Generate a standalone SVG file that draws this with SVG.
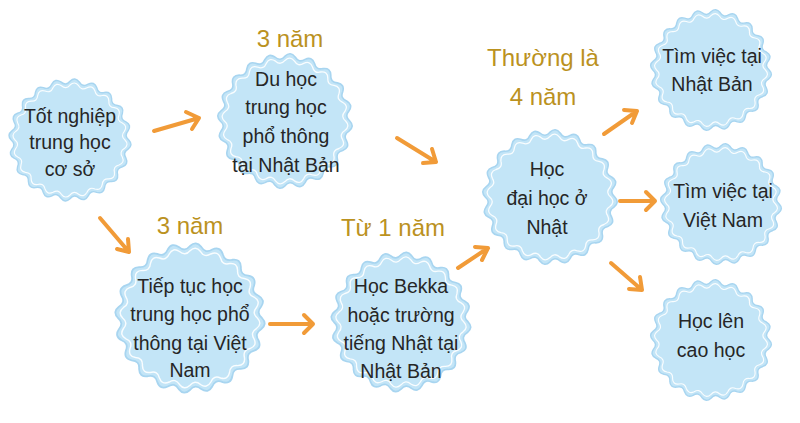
<svg xmlns="http://www.w3.org/2000/svg" xmlns:xlink="http://www.w3.org/1999/xlink" width="800" height="423" viewBox="0 0 800 423">
<style>
.t{font-family:"Liberation Sans","Noto Sans",sans-serif;font-size:19.5px;fill:#262626;text-anchor:middle}
.y{font-family:"Liberation Sans","Noto Sans",sans-serif;font-size:24px;fill:#bb921f;text-anchor:middle}
.a{fill:none;stroke:#f19b38;stroke-width:4;stroke-linecap:round;stroke-linejoin:round}
.bo{fill:#c3e5f7;stroke:#a8d5f0;stroke-width:1.5}
.bi{fill:none;stroke:#ffffff;stroke-width:1.3;opacity:0.9}
</style>
<defs>
<path id="wave" d="M60,0 Q64.80,5.10 59.26,9.39 Q53.48,12.84 57.06,18.54 Q60.05,24.87 53.46,27.24 Q46.90,28.74 48.54,35.27 Q49.43,42.21 42.43,42.43 Q35.72,41.82 35.27,48.54 Q33.96,55.42 27.24,53.46 Q21.05,50.81 18.54,57.06 Q15.17,63.20 9.39,59.26 Q4.32,54.83 0,60 Q-5.10,64.80 -9.39,59.26 Q-12.84,53.48 -18.54,57.06 Q-24.87,60.05 -27.24,53.46 Q-28.74,46.90 -35.27,48.54 Q-42.21,49.43 -42.43,42.43 Q-41.82,35.72 -48.54,35.27 Q-55.42,33.96 -53.46,27.24 Q-50.81,21.05 -57.06,18.54 Q-63.20,15.17 -59.26,9.39 Q-54.83,4.32 -60,0 Q-64.80,-5.10 -59.26,-9.39 Q-53.48,-12.84 -57.06,-18.54 Q-60.05,-24.87 -53.46,-27.24 Q-46.90,-28.74 -48.54,-35.27 Q-49.43,-42.21 -42.43,-42.43 Q-35.72,-41.82 -35.27,-48.54 Q-33.96,-55.42 -27.24,-53.46 Q-21.05,-50.81 -18.54,-57.06 Q-15.17,-63.20 -9.39,-59.26 Q-4.32,-54.83 0,-60 Q5.10,-64.80 9.39,-59.26 Q12.84,-53.48 18.54,-57.06 Q24.87,-60.05 27.24,-53.46 Q28.74,-46.90 35.27,-48.54 Q42.21,-49.43 42.43,-42.43 Q41.82,-35.72 48.54,-35.27 Q55.42,-33.96 53.46,-27.24 Q50.81,-21.05 57.06,-18.54 Q63.20,-15.17 59.26,-9.39 Q54.83,-4.32 60,0 Z"/>
<g id="badge">
<use xlink:href="#wave" class="bo" vector-effect="non-scaling-stroke"/>
<use xlink:href="#wave" class="bi" transform="scale(0.935)"/>
</g>
</defs>
<rect width="800" height="423" fill="#ffffff"/>

<g id="connectors">
<path class="a" d="M154,131 L199,118 M186,112 L199,118 L192,129"/>
<path class="a" d="M397,138 L436,162 M432,149 L436,162 L423,163"/>
<path class="a" d="M100,218 L129,252 M128,239 L129,252 L117,249"/>
<path class="a" d="M270,324 L313,324 M304,315 L313,324 L304,333"/>
<path class="a" d="M458,268 L488,248 M475,247 L488,248 L482,260"/>
<path class="a" d="M604,134 L637,111 M624,110 L637,111 L632,123"/>
<path class="a" d="M620,201 L655,201 M646,192 L655,201 L646,210"/>
<path class="a" d="M611,263 L642,290 M640,277 L642,290 L629,289"/>
</g>

<g id="labels">
<text class="y" x="290" y="47">3 năm</text>
<text class="y" x="190" y="234">3 năm</text>
<text class="y" x="393" y="236">Từ 1 năm</text>
<text class="y" x="543" y="66">Thường là</text>
<text class="y" x="543" y="105">4 năm</text>
</g>

<g id="n1">
<use xlink:href="#badge" transform="translate(70,140) scale(0.98)"/>
<text class="t" x="70" y="123">Tốt nghiệp</text>
<text class="t" x="70" y="149">trung học</text>
<text class="t" x="70" y="176">cơ sở</text>
</g>
<g id="n2">
<use xlink:href="#badge" transform="translate(285,121) scale(1.08)"/>
<text class="t" x="286" y="86">Du học</text>
<text class="t" x="286" y="114">trung học</text>
<text class="t" x="286" y="143">phổ thông</text>
<text class="t" x="286" y="172">tại Nhật Bản</text>
</g>
<g id="n3">
<use xlink:href="#badge" transform="translate(190,318) scale(1.2)"/>
<text class="t" x="190" y="293">Tiếp tục học</text>
<text class="t" x="190" y="321">trung học phổ</text>
<text class="t" x="190" y="350">thông tại Việt</text>
<text class="t" x="190" y="377">Nam</text>
</g>
<g id="n4">
<use xlink:href="#badge" transform="translate(401,322) scale(1.12)"/>
<text class="t" x="401" y="293">Học Bekka</text>
<text class="t" x="401" y="322">hoặc trường</text>
<text class="t" x="401" y="350">tiếng Nhật tại</text>
<text class="t" x="401" y="378">Nhật Bản</text>
</g>
<g id="n5">
<use xlink:href="#badge" transform="translate(550,197) scale(1.08)"/>
<text class="t" x="547" y="176">Học</text>
<text class="t" x="547" y="205">đại học ở</text>
<text class="t" x="547" y="234">Nhật</text>
</g>
<g id="n6">
<use xlink:href="#badge" transform="translate(711,70) scale(0.97)"/>
<text class="t" x="712" y="63">Tìm việc tại</text>
<text class="t" x="712" y="91">Nhật Bản</text>
</g>
<g id="n7">
<use xlink:href="#badge" transform="translate(721,204) scale(0.97)"/>
<text class="t" x="723" y="198">Tìm việc tại</text>
<text class="t" x="723" y="227">Việt Nam</text>
</g>
<g id="n8">
<use xlink:href="#badge" transform="translate(711,340) scale(0.97)"/>
<text class="t" x="711" y="328">Học lên</text>
<text class="t" x="711" y="357">cao học</text>
</g>
</svg>
